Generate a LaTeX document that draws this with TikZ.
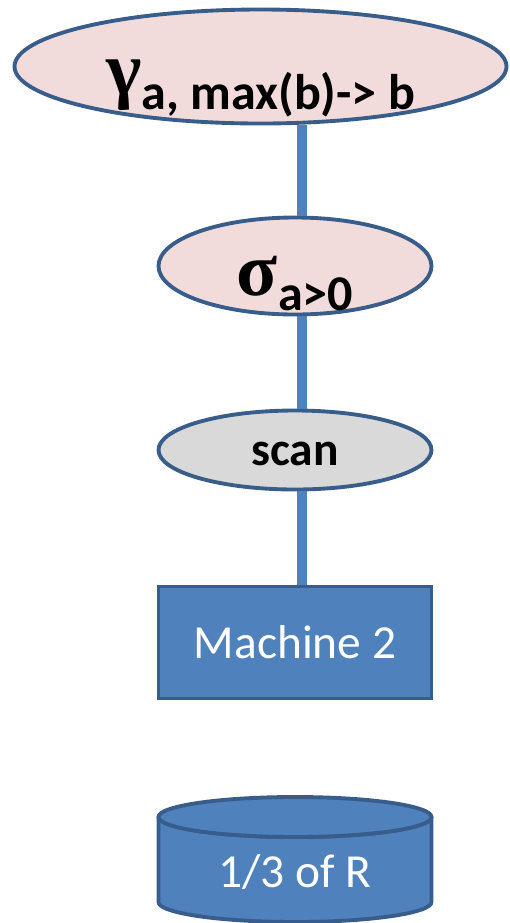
\documentclass[tikz,border=0pt]{standalone}
\usepackage{fontspec}
\setmainfont{Carlito}
\newfontfamily\greekfont{Liberation Serif}
\usetikzlibrary{shapes.geometric}
\definecolor{edgeblue}{HTML}{385D8A}
\definecolor{wireblue}{HTML}{4F81BD}
\definecolor{oppink}{HTML}{F2DCDB}
\definecolor{scangray}{HTML}{D9D9D9}
\newcommand{\opname}[2]{{\greekfont\bfseries\fontsize{43}{43}\selectfont #1}\raisebox{-9pt}{\bfseries\fontsize{28.5}{28.5}\selectfont #2}}
\begin{document}
\begin{tikzpicture}
  [
    op/.style    = {ellipse, draw=edgeblue, line width=2.2pt, fill=oppink, inner sep=0pt},
    wire/.style  = {draw=wireblue, line width=6.2pt},
    site/.style  = {rectangle, draw=edgeblue, line width=2.2pt, fill=wireblue, text=white,
                    minimum width=5.46cm, font=\fontsize{27}{27}\selectfont},
    disk/.style  = {draw=edgeblue, line width=2.2pt, fill=wireblue, line join=round}
  ]
 \useasboundingbox (0,0) rectangle (10.18,-18.46);
 % plan, top down
 \node[op, minimum width=9.84cm, minimum height=2.28cm] (top) at (5.21,-1.33) {};
 \node[op, minimum width=5.46cm, minimum height=1.94cm] (sig) at (5.9,-5.32) {};
 \node[op, fill=scangray, minimum width=5.46cm, minimum height=1.58cm, text height=18pt,
       font=\bfseries\fontsize{27}{27}\selectfont] (scan) at (5.9,-9) {scan};
 \node[site, minimum height=2.24cm] (m2) at (5.9,-12.85) {Machine 2};
 \node[anchor=base] (toplbl) at ([yshift=-0.55cm]top.center) {\opname{γ}{a, max(b)-> b}};
 \node[anchor=base] (siglbl) at ([yshift=-0.58cm]sig.center) {\opname{σ}{a>0}};
 \draw[wire] ([xshift=1.4mm]sig.north) -- ([xshift=1.4mm]sig.north |- top.south);
 \draw[wire] ([xshift=1.4mm]scan.north) -- ([xshift=1.4mm]sig.south);
 \draw[wire] ([xshift=1.4mm]scan.south) -- ([xshift=1.4mm]scan.south |- m2.north);
 % the data
 \draw[disk]
   (3.17,-16.34) -- (3.17,-18.04) arc[start angle=180, end angle=360, x radius=2.73cm, y radius=0.4cm]
   -- (8.63,-16.34) arc[start angle=0, end angle=-180, x radius=2.73cm, y radius=0.4cm] -- cycle;
 \draw[disk] (5.9,-16.34) ellipse [x radius=2.73cm, y radius=0.4cm];
 \node[anchor=base, text=white, font=\fontsize{27}{27}\selectfont] (rlbl) at (5.9,-17.74) {1/3 of R};
\end{tikzpicture}
\end{document}
